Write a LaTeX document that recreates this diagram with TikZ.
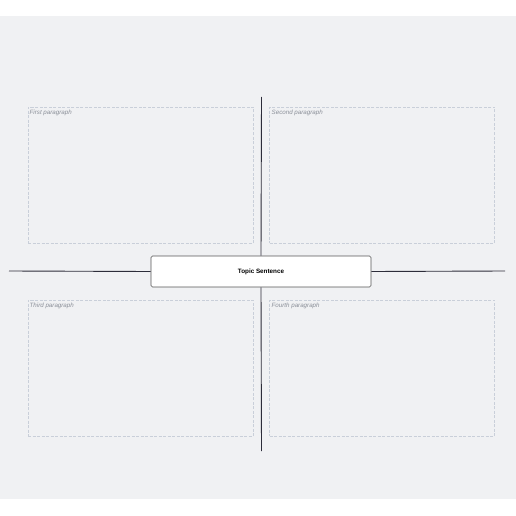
\documentclass[tikz,border=0pt]{standalone}
\usepackage{fontspec}
\setmainfont{Liberation Sans}
\begin{document}
\begin{tikzpicture}[x=1pt,y=-1pt,
  para/.style={draw=dashgray, dashed, dash pattern=on 3pt off 1.5pt, line width=0.6pt, rectangle, minimum width=225pt, minimum height=136pt, inner sep=0pt},
  plabel/.style={anchor=north west, inner sep=0pt, font=\fontsize{6.2}{7}\selectfont\itshape, text=labgray},
  topic/.style={draw=boxline, fill=white, rounded corners=1.5pt, line width=0.6pt, minimum width=220pt, minimum height=31pt, inner sep=0pt, font=\fontsize{6.3}{7}\selectfont\bfseries},
  axis/.style={draw=axisdark, line width=0.9pt}]
\definecolor{bggray}{HTML}{F0F1F3}
\definecolor{dashgray}{HTML}{C9CFD9}
\definecolor{labgray}{HTML}{8A8F98}
\definecolor{boxline}{HTML}{555555}
\definecolor{axisdark}{HTML}{2D2D3A}
\useasboundingbox (0,0) rectangle (516,516);
\fill[white] (0,0) rectangle (516,516);
\fill[bggray] (0,16) rectangle (516,499);
% paragraph boxes
\node[para] (p1) at (140.5,175) {};
\node[para] (p2) at (382,175) {};
\node[para] (p3) at (140.5,368) {};
\node[para] (p4) at (382,368) {};
\node[plabel] (l1) at (29.5,109.5) {First paragraph};
\node[plabel] (l2) at (271.5,109.5) {Second paragraph};
\node[plabel] (l3) at (29.5,302.5) {Third paragraph};
\node[plabel] (l4) at (271.5,302.5) {Fourth paragraph};
% axes
\coordinate (top) at (261.5,97);
\coordinate (bot) at (261.5,451);
\coordinate (lft) at (9,271);
\coordinate (rgt) at (505,271);
\node[topic] (t) at (261,271.5) {Topic Sentence};
\draw[axis] (top) -- (t.north);
\draw[axis] (t.south) -- (bot);
\draw[axis] (lft) -- (t.west);
\draw[axis] (t.east) -- (rgt);
\end{tikzpicture}
\end{document}
